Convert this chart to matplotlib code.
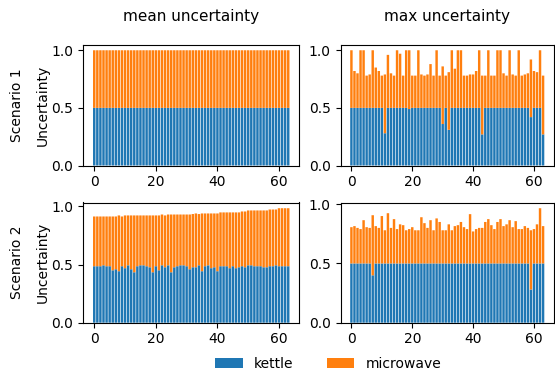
import numpy as np
import matplotlib
matplotlib.use("Agg")
import matplotlib.pyplot as plt
from matplotlib.patches import Patch

# ---------------- data ----------------
steps = np.arange(64)
xticks = [0, 20, 40, 60]
yticks = [0.0, 0.5, 1.0]
col_titles = ["mean uncertainty", "max uncertainty"]
row_labels = ["Scenario 1", "Scenario 2"]
series_names = ["kettle", "microwave"]

# Scenario 1, mean uncertainty
s1_mean_kettle = [0.5] * 64
s1_mean_total = [1.0] * 64

# Scenario 1, max uncertainty
s1_max_total = [1.0, 0.82, 0.80, 1.0, 1.0, 0.78, 0.79, 1.0, 0.85, 0.82,
                0.78, 0.79, 0.96, 0.80, 0.78, 1.0, 0.97, 0.78, 1.0, 1.0,
                0.78, 0.78, 1.0, 0.79, 0.78, 0.79, 0.88, 0.78, 1.0, 0.78,
                0.86, 0.78, 0.81, 1.0, 0.84, 1.0, 1.0, 0.78, 0.78, 0.79,
                0.79, 0.82, 1.0, 0.78, 0.78, 1.0, 0.78, 0.78, 1.0, 1.0,
                0.80, 0.78, 1.0, 0.79, 0.78, 1.0, 0.78, 0.79, 0.80, 0.92,
                0.82, 0.81, 1.0, 0.78]
s1_max_kettle = [0.5, 0.5, 0.5, 0.5, 0.5, 0.5, 0.5, 0.5, 0.5, 0.5,
                 0.5, 0.28, 0.5, 0.5, 0.5, 0.5, 0.5, 0.5, 0.5, 0.49,
                 0.5, 0.5, 0.5, 0.5, 0.5, 0.5, 0.5, 0.5, 0.5, 0.5,
                 0.36, 0.5, 0.31, 0.5, 0.5, 0.5, 0.5, 0.5, 0.5, 0.5,
                 0.5, 0.5, 0.5, 0.27, 0.5, 0.5, 0.5, 0.5, 0.5, 0.5,
                 0.5, 0.5, 0.5, 0.5, 0.5, 0.5, 0.5, 0.5, 0.5, 0.42,
                 0.5, 0.5, 0.5, 0.27]

# Scenario 2, mean uncertainty
s2_mean_total = [0.914, 0.914, 0.914, 0.914, 0.914, 0.914, 0.914, 0.914, 0.923, 0.914,
                 0.923, 0.923, 0.923, 0.923, 0.923, 0.923, 0.923, 0.923, 0.923, 0.923,
                 0.923, 0.923, 0.931, 0.923, 0.931, 0.931, 0.931, 0.931, 0.931, 0.931,
                 0.931, 0.931, 0.935, 0.940, 0.935, 0.940, 0.940, 0.940, 0.940, 0.940,
                 0.940, 0.949, 0.949, 0.949, 0.949, 0.949, 0.949, 0.949, 0.957, 0.957,
                 0.966, 0.966, 0.966, 0.966, 0.966, 0.966, 0.966, 0.974, 0.974, 0.974,
                 0.985, 0.985, 0.985, 0.985]
s2_mean_kettle = [0.486, 0.486, 0.486, 0.494, 0.486, 0.486, 0.451, 0.460, 0.443, 0.486,
                  0.469, 0.494, 0.460, 0.434, 0.486, 0.494, 0.494, 0.486, 0.477, 0.434,
                  0.486, 0.451, 0.494, 0.477, 0.494, 0.434, 0.477, 0.486, 0.494, 0.494,
                  0.486, 0.460, 0.477, 0.477, 0.494, 0.443, 0.486, 0.494, 0.469, 0.477,
                  0.443, 0.486, 0.486, 0.486, 0.469, 0.486, 0.469, 0.477, 0.486, 0.477,
                  0.494, 0.494, 0.486, 0.486, 0.486, 0.477, 0.477, 0.486, 0.486, 0.494,
                  0.486, 0.486, 0.486, 0.486]

# Scenario 2, max uncertainty
s2_max_total = [0.806, 0.815, 0.80, 0.79, 0.865, 0.806, 0.80, 0.907, 0.815, 0.80,
                0.90, 0.78, 0.924, 0.80, 0.874, 0.79, 0.83, 0.823, 0.78, 0.79,
                0.806, 0.78, 0.78, 0.89, 0.84, 0.80, 0.865, 0.78, 0.88, 0.85,
                0.78, 0.78, 0.83, 0.78, 0.815, 0.823, 0.85, 0.806, 0.79, 0.916,
                0.77, 0.79, 0.80, 0.80, 0.85, 0.874, 0.823, 0.79, 0.85, 0.874,
                0.815, 0.83, 0.865, 0.806, 0.857, 0.79, 0.79, 0.815, 0.80, 0.78,
                0.79, 0.83, 0.966, 0.815]
s2_max_kettle = [0.5] * 64
s2_max_kettle[7] = 0.40
s2_max_kettle[59] = 0.28

panels = [[(s1_mean_kettle, s1_mean_total), (s1_max_kettle, s1_max_total)],
          [(s2_mean_kettle, s2_mean_total), (s2_max_kettle, s2_max_total)]]

# ---------------- figure ----------------
W, H = 555, 373
fig = plt.figure(figsize=(W / 100, H / 100), dpi=100)
colors = ["#1f77b4", "#ff7f0e"]

cols_px = [(83.2, 299.3), (340.5, 554.0)]
rows_px = [(44.5, 165.5), (202.5, 322.7)]

for r in range(2):
    for c in range(2):
        l, rr = cols_px[c]
        t, b = rows_px[r]
        ax = fig.add_axes([l / W, 1 - b / H, (rr - l) / W, (b - t) / H])
        kettle, total = panels[r][c]
        kettle = np.array(kettle)
        micro = np.array(total) - kettle
        ax.bar(steps, kettle, color=colors[0], width=0.8, snap=False, linewidth=0)
        ax.bar(steps, micro, bottom=kettle, color=colors[1], width=0.8,
               snap=False, linewidth=0)
        ax.set_xticks(xticks)
        ax.set_yticks(yticks)
        ax.set_yticklabels([f"{v:.1f}" for v in yticks])
        ax.tick_params(labelsize=10)
        if c == 0:
            ax.set_ylabel("Uncertainty", fontsize=10, labelpad=1)

for c in range(2):
    l, rr = cols_px[c]
    fig.text((l + rr) / 2 / W, 1 - 21.5 / H, col_titles[c], ha="center",
             va="baseline", fontsize=11)
for r in range(2):
    t, b = rows_px[r]
    fig.text(17 / W, 1 - (t + b) / 2 / H, row_labels[r], rotation=90,
             ha="center", va="center", fontsize=10)

handles = [Patch(facecolor=colors[0]), Patch(facecolor=colors[1])]
fig.legend(handles, series_names, loc="center", ncol=2, frameon=False,
           bbox_to_anchor=(328 / W, 9.5 / H), fontsize=10, columnspacing=2.4)

fig.savefig("out.png", dpi=100)
